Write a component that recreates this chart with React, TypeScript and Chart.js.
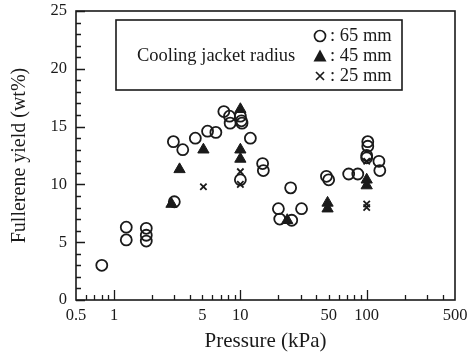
import React, { useEffect, useRef } from "react";
import { Chart, registerables } from "chart.js";

Chart.register(...registerables);

// Pressure (kPa) and yield (wt%) for each cooling jacket radius
const circleP = [0.8, 1.25, 1.25, 1.8, 1.8, 1.8, 2.95, 3.0, 3.5, 4.4, 5.5, 6.4, 7.4, 8.2, 8.3, 10, 10.2, 10.3, 10, 12, 15, 15.2, 20, 20.5, 25, 25.5, 30.5, 48, 50, 72, 85, 102, 102, 100, 100, 125, 127];
const circleY = [3.0, 6.3, 5.2, 6.2, 5.6, 5.1, 13.7, 8.5, 13.0, 14.0, 14.6, 14.5, 16.3, 15.9, 15.3, 15.9, 15.5, 15.3, 10.4, 14.0, 11.8, 11.2, 7.9, 7.0, 9.7, 6.9, 7.9, 10.7, 10.4, 10.9, 10.9, 13.7, 13.3, 12.5, 12.3, 12.0, 11.2];

const triP = [2.85, 3.3, 5.1, 10, 10, 10, 23.5, 49, 49, 100, 100];
const triY = [8.3, 11.3, 13.0, 16.5, 13.0, 12.2, 6.9, 8.4, 7.9, 10.4, 9.9];

const crossP = [5.1, 10, 10, 100, 100, 100];
const crossY = [9.8, 11.1, 10.0, 8.3, 8.0, 12.0];

const xTickLabels = [0.5, 1, 5, 10, 50, 100, 500];
const xMinorTicks = [0.6, 0.7, 0.8, 0.9, 1, 2, 3, 4, 5, 6, 7, 8, 9, 10, 20, 30, 40, 50, 60, 70, 80, 90, 100, 200, 300, 400];
const xMajorTicks = [1, 10, 100];
const yTicks = [0, 1, 2, 3, 4, 5, 6, 7, 8, 9, 10, 11, 12, 13, 14, 15, 16, 17, 18, 19, 20, 21, 22, 23, 24, 25];

const legendTitle = "Cooling jacket radius";
const legendLabels = [": 65 mm", ": 45 mm", ": 25 mm"];

const FONT = "'Liberation Serif', 'DejaVu Serif', serif";
const INK = "#1a1a1a";

const toPts = (xs: number[], ys: number[]) => xs.map((x, i) => ({ x, y: ys[i] }));

const framePlugin = {
  id: "frameTicks",
  afterDraw(chart: any) {
    const { ctx, chartArea: a, scales } = chart;
    const xs = scales.x;
    const ys = scales.y;
    ctx.save();
    ctx.strokeStyle = INK;
    ctx.lineWidth = 1.6;
    ctx.strokeRect(a.left, a.top, a.right - a.left, a.bottom - a.top);
    ctx.lineWidth = 1.3;
    ctx.beginPath();
    for (const v of xMinorTicks) {
      const px = Math.round(xs.getPixelForValue(v)) + 0.5;
      const len = xMajorTicks.includes(v) ? 10 : 5;
      ctx.moveTo(px, a.bottom);
      ctx.lineTo(px, a.bottom - len);
    }
    for (const v of yTicks) {
      const py = Math.round(ys.getPixelForValue(v)) + 0.5;
      const len = v % 5 === 0 ? 9 : 5;
      ctx.moveTo(a.left, py);
      ctx.lineTo(a.left + len, py);
    }
    ctx.stroke();

    // legend box
    const bx = a.left + 40;
    const by = a.top + 9;
    const bw = 286;
    const bh = 70;
    ctx.lineWidth = 1.6;
    ctx.strokeRect(bx, by, bw, bh);
    ctx.fillStyle = INK;
    ctx.font = `18.5px ${FONT}`;
    ctx.textBaseline = "middle";
    ctx.textAlign = "left";
    ctx.fillText(legendTitle, bx + 21, by + 36);
    const sx = bx + 204;
    const rows = [by + 16, by + 36, by + 56];
    legendLabels.forEach((t, i) => ctx.fillText(t, sx + 10, rows[i]));
    // symbols
    ctx.lineWidth = 1.7;
    ctx.beginPath();
    ctx.arc(sx, rows[0], 5.5, 0, Math.PI * 2);
    ctx.stroke();
    ctx.beginPath();
    ctx.moveTo(sx, rows[1] - 6.5);
    ctx.lineTo(sx + 6.5, rows[1] + 5.5);
    ctx.lineTo(sx - 6.5, rows[1] + 5.5);
    ctx.closePath();
    ctx.fill();
    ctx.beginPath();
    ctx.moveTo(sx - 4, rows[2] - 4);
    ctx.lineTo(sx + 4, rows[2] + 4);
    ctx.moveTo(sx + 4, rows[2] - 4);
    ctx.lineTo(sx - 4, rows[2] + 4);
    ctx.stroke();
    ctx.restore();
  },
};

export default function App() {
  const ref = useRef<HTMLCanvasElement | null>(null);
  useEffect(() => {
    if (!ref.current) return;
    const chart = new Chart(ref.current, {
      type: "scatter",
      data: {
        datasets: [
          {
            label: "65 mm",
            data: toPts(circleP, circleY),
            pointStyle: "circle",
            pointRadius: 5.5,
            borderColor: INK,
            backgroundColor: "rgba(255,255,255,0)",
            borderWidth: 1.8,
          },
          {
            label: "45 mm",
            data: toPts(triP, triY),
            pointStyle: "triangle",
            pointRadius: 6.5,
            borderColor: INK,
            backgroundColor: INK,
            borderWidth: 1,
          },
          {
            label: "25 mm",
            data: toPts(crossP, crossY),
            pointStyle: "crossRot",
            pointRadius: 4.5,
            borderColor: INK,
            backgroundColor: INK,
            borderWidth: 1.8,
          },
        ],
      },
      options: {
        responsive: false,
        animation: false,
        devicePixelRatio: 1,
        layout: { padding: { left: 0, right: 19, top: 11, bottom: 0 } },
        plugins: { legend: { display: false }, tooltip: { enabled: false } },
        scales: {
          x: {
            type: "logarithmic",
            min: 0.5,
            max: 500,
            grid: { display: false, drawTicks: false },
            border: { display: false },
            afterBuildTicks: (s: any) => {
              s.ticks = xTickLabels.map((v) => ({ value: v }));
            },
            afterFit: (s: any) => {
              s.height = 55;
              s.paddingLeft = 0;
              s.paddingRight = 0;
            },
            ticks: {
              autoSkip: false,
              maxRotation: 0,
              padding: 6,
              color: INK,
              font: { family: FONT, size: 16.5 },
              callback: (v: any) => String(v),
            },
            title: {
              display: true,
              text: "Pressure (kPa)",
              color: INK,
              font: { family: FONT, size: 21 },
              padding: { top: 0, bottom: 1 },
            },
          },
          y: {
            min: 0,
            max: 25,
            grid: { display: false, drawTicks: false },
            border: { display: false },
            afterBuildTicks: (s: any) => {
              s.ticks = yTicks.filter((v) => v % 5 === 0).map((v) => ({ value: v }));
            },
            afterFit: (s: any) => {
              s.width = 76;
              s.paddingTop = 0;
              s.paddingBottom = 0;
            },
            ticks: {
              padding: 9,
              color: INK,
              font: { family: FONT, size: 16.5 },
              callback: (v: any) => String(v),
            },
            title: {
              display: true,
              text: "Fullerene yield (wt%)",
              color: INK,
              font: { family: FONT, size: 20 },
              padding: { top: 8, bottom: 0 },
            },
          },
        },
      },
      plugins: [framePlugin],
    });
    return () => chart.destroy();
  }, []);
  return (
    <div style={{ position: "fixed", left: 0, top: 0, width: 474, height: 355, background: "#fff" }}>
      <canvas ref={ref} width={474} height={355} />
    </div>
  );
}
